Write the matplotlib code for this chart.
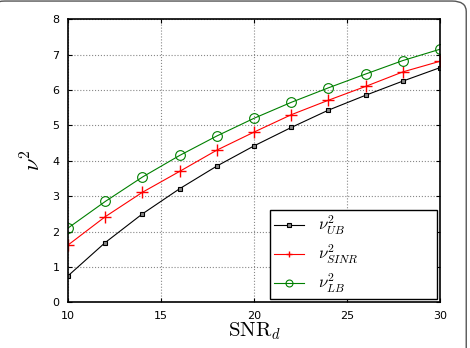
import matplotlib
matplotlib.use("Agg")
import matplotlib.pyplot as plt
from matplotlib.lines import Line2D
from matplotlib.legend_handler import HandlerLine2D
from matplotlib.patches import FancyBboxPatch

plt.rcParams['mathtext.fontset'] = 'cm'

snr = [10, 12, 14, 16, 18, 20, 22, 24, 26, 28, 30]
nu_ub = [0.75, 1.69, 2.50, 3.21, 3.85, 4.42, 4.94, 5.43, 5.85, 6.25, 6.63]
nu_sinr = [1.62, 2.42, 3.11, 3.70, 4.30, 4.81, 5.30, 5.71, 6.10, 6.51, 6.81]
nu_lb = [2.10, 2.85, 3.54, 4.15, 4.70, 5.20, 5.65, 6.06, 6.45, 6.83, 7.15]

fig = plt.figure(figsize=(4.7, 3.48), dpi=100)
ax = fig.add_axes([0.1447, 0.131, 0.7915, 0.814])

# rounded outer frame (cropped on the left and bottom)
fig.patches.append(FancyBboxPatch((-0.02, -0.1), 1.012, 1.097, boxstyle="round,pad=0,rounding_size=0.03",
                                  transform=fig.transFigure, fill=False, ec='#555555', lw=1.0))

ax.plot(snr, nu_ub, color='black', lw=0.8, marker='s', ms=3, mfc='#888888', mec='black', mew=0.8,
        label=r'$\nu^2_{UB}$')
ax.plot(snr, nu_sinr, color='red', lw=0.8, marker='+', ms=8, mew=1.0, label=r'$\nu^2_{SINR}$')
ax.plot(snr, nu_lb, color='green', lw=0.8, marker='o', ms=7, mfc='none', mew=0.8,
        label=r'$\nu^2_{LB}$')

ax.set_xlim(10, 30)
ax.set_ylim(0, 8)
ax.set_xticks([10, 15, 20, 25, 30])
ax.set_yticks(range(0, 9))
ax.tick_params(direction='in', top=True, right=True, labelsize=8, length=3, pad=6)
ax.grid(True, linestyle=':', color='#888888', lw=0.8)
for s in ax.spines.values():
    s.set_linewidth(1.2)

ax.set_xlabel(r'$\mathrm{SNR}_d$', fontsize=15, labelpad=0)
ax.set_ylabel(r'$\nu^2$', fontsize=16, labelpad=6)


def small_marker(handle, orig):
    handle.update_from(orig)
    if orig.get_marker() in ('+', 'o'):
        handle.set_markersize(5)


leg = ax.legend(loc='lower left', fontsize=12, fancybox=False, edgecolor='black',
                framealpha=1, handlelength=1.8, borderpad=0.25, labelspacing=0.35,
                borderaxespad=0, bbox_to_anchor=(0.543, 0.012, 0.449, 0.3), mode='expand',
                handler_map={Line2D: HandlerLine2D(update_func=small_marker)})
leg.get_frame().set_linewidth(1.0)

fig.savefig('out.png', dpi=100)
